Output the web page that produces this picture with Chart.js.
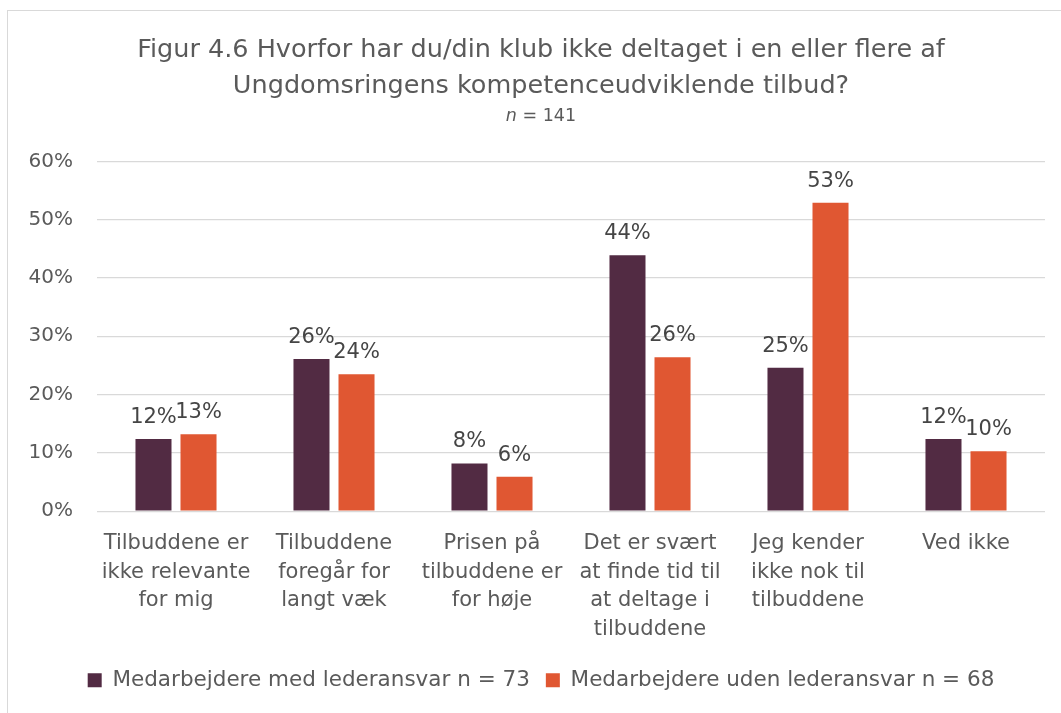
<!DOCTYPE html>
<html>
<head>
<meta charset="utf-8">
<script src="https://cdn.jsdelivr.net/npm/chart.js@4/dist/chart.umd.min.js"></script>
<style>
  html, body { margin: 0; padding: 0; background: #ffffff; overflow: hidden; }
  body { width: 1061px; height: 713px; position: relative; }
  #frame { position: absolute; left: 7px; top: 10px; width: 2000px; height: 2000px;
           border-top: 1px solid #d9d9d9; border-left: 1px solid #d9d9d9; }
  #wrap { position: absolute; left: 8px; top: 11px; width: 1066px; height: 702px; }
</style>
</head>
<body>
<div id="frame"></div>
<div id="wrap"><canvas id="c"></canvas></div>
<script>
const titleLines = ["Figur 4.6 Hvorfor har du/din klub ikke deltaget i en eller flere af",
                    "Ungdomsringens kompetenceudviklende tilbud?"];
const subtitleText = "n = 141";
const categories = [
  ["Tilbuddene er", "ikke relevante", "for mig"],
  ["Tilbuddene", "foregår for", "langt væk"],
  ["Prisen på", "tilbuddene er", "for høje"],
  ["Det er svært", "at finde tid til", "at deltage i", "tilbuddene"],
  ["Jeg kender", "ikke nok til", "tilbuddene"],
  ["Ved ikke"]
];
const seriesNames = ["Medarbejdere med lederansvar n = 73", "Medarbejdere uden lederansvar n = 68"];
const withLeader = [12.4, 26.1, 8.2, 43.9, 24.6, 12.4];
const withoutLeader = [13.2, 23.5, 5.9, 26.4, 52.9, 10.3];
const yTicks = [0, 10, 20, 30, 40, 50, 60];

const FONT = "'DejaVu Sans', sans-serif";
const GRAY = "#5a5a5a";

const valueLabels = {
  id: "valueLabels",
  afterDatasetsDraw(chart) {
    const ctx = chart.ctx;
    ctx.save();
    ctx.font = "21px " + FONT;
    ctx.fillStyle = "#454545";
    ctx.textAlign = "center";
    ctx.textBaseline = "alphabetic";
    chart.data.datasets.forEach((ds, di) => {
      const meta = chart.getDatasetMeta(di);
      meta.data.forEach((el, i) => {
        ctx.fillText(Math.round(ds.data[i]) + "%", el.x, el.y - 16);
      });
    });
    ctx.restore();
  }
};

const subtitleItalic = {
  id: "subtitleItalic",
  afterDraw(chart) {
    const box = chart.boxes.find(b => b.options && b.options.text === subtitleText);
    if (!box) return;
    const ctx = chart.ctx;
    ctx.save();
    const size = 17.5;
    const italic = "italic " + size + "px " + FONT;
    const normal = size + "px " + FONT;
    ctx.font = italic;
    const w1 = ctx.measureText("n").width;
    ctx.font = normal;
    const rest = " = 141";
    const w2 = ctx.measureText(rest).width;
    const cx = (box.left + box.right) / 2;
    const cy = box.top + 13;
    let x = cx - (w1 + w2) / 2;
    ctx.textBaseline = "middle";
    ctx.textAlign = "left";
    ctx.fillStyle = GRAY;
    ctx.font = italic;
    ctx.fillText("n", x, cy);
    ctx.font = normal;
    ctx.fillText(rest, x + w1, cy);
    ctx.restore();
  }
};

new Chart(document.getElementById("c"), {
  type: "bar",
  data: {
    labels: categories,
    datasets: [
      { label: seriesNames[0], data: withLeader, backgroundColor: "#522B43", borderWidth: 0 },
      { label: seriesNames[1], data: withoutLeader, backgroundColor: "#E05732", borderWidth: 0 }
    ]
  },
  options: {
    responsive: true,
    maintainAspectRatio: false,
    animation: false,
    layout: { padding: { left: 0, right: 0, top: 9, bottom: 12 } },
    datasets: { bar: { categoryPercentage: 0.57, barPercentage: 0.8 } },
    plugins: {
      title: {
        display: true,
        text: titleLines,
        color: GRAY,
        font: { family: FONT, size: 25.5, weight: "normal", lineHeight: 1.41 },
        padding: { top: 12, bottom: 0 }
      },
      subtitle: {
        display: true,
        text: subtitleText,
        color: "rgba(0,0,0,0)",
        font: { family: FONT, size: 17, lineHeight: 1.2 },
        padding: { top: 0, bottom: 37 }
      },
      legend: {
        position: "bottom",
        labels: {
          color: GRAY,
          boxWidth: 14,
          boxHeight: 14,
          padding: 16,
          font: { family: FONT, size: 21.5 }
        }
      },
      tooltip: { enabled: false }
    },
    scales: {
      x: {
        grid: { display: false },
        border: { display: false },
        ticks: {
          color: GRAY,
          font: { family: FONT, size: 21, lineHeight: 1.36 },
          maxRotation: 0,
          autoSkip: false,
          padding: 10
        }
      },
      y: {
        min: 0,
        max: 60,
        afterFit(scale) { scale.width = 89; },
        afterBuildTicks(scale) { scale.ticks = yTicks.map(v => ({ value: v })); },
        grid: { color: "#d9d9d9", lineWidth: 1.3, drawTicks: false },
        border: { display: false },
        ticks: {
          color: GRAY,
          padding: 24,
          font: { family: FONT, size: 20 },
          callback: v => v + "%"
        }
      },
      ySpacer: {
        type: "linear",
        position: "right",
        display: true,
        min: 0,
        max: 60,
        afterFit(scale) { scale.width = 29; },
        grid: { display: false, drawTicks: false },
        border: { display: false },
        ticks: { display: false }
      }
    }
  },
  plugins: [valueLabels, subtitleItalic]
});
</script>
</body>
</html>
